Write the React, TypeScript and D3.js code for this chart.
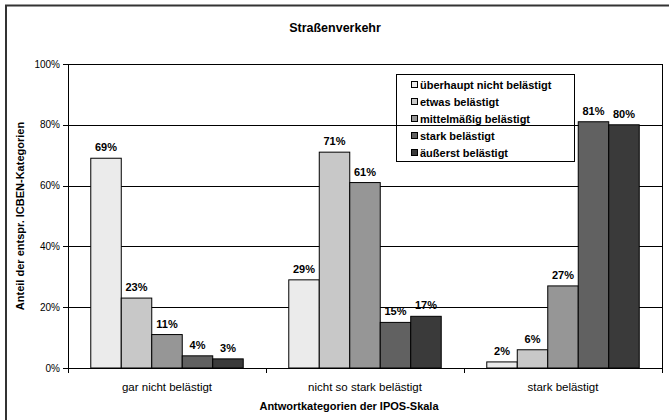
import { scaleBand, scaleLinear } from "d3";
import type { ReactElement } from "react";

const categories = ["gar nicht belästigt", "nicht so stark belästigt", "stark belästigt"];
const seriesNames = [
  "überhaupt nicht belästigt",
  "etwas belästigt",
  "mittelmäßig belästigt",
  "stark belästigt",
  "äußerst belästigt",
];
const seriesValues = [
  [69, 29, 2],
  [23, 71, 6],
  [11, 61, 27],
  [4, 15, 81],
  [3, 17, 80],
];
const yTicks = [0, 20, 40, 60, 80, 100];
const colors = ["#ebebeb", "#c8c8c8", "#969696", "#616161", "#3a3a3a"];

const W = 669;
const H = 420;
const PLOT = { left: 68, right: 662, top: 64, bottom: 368 };
const FONT = "'Liberation Sans', Arial, sans-serif";

export default function App(): ReactElement {
  const x = scaleBand<string>()
    .domain(categories)
    .range([PLOT.left, PLOT.right])
    .paddingInner(0)
    .paddingOuter(0);
  const groupW = x.bandwidth() * 0.77;
  const xs = scaleBand<string>()
    .domain(seriesNames)
    .range([0, groupW]);
  const y = scaleLinear().domain([0, 100]).range([PLOT.bottom, PLOT.top]);

  const legendX = 396;
  const legendY = 74;
  const rowH = 17;

  return (
    <svg
      width={W}
      height={H}
      style={{ position: "absolute", left: 0, top: 0, background: "#fff" }}
      fontFamily={FONT}
    >
      {/* outer chart frame, cropped at right and bottom */}
      <rect x={6} y={5.5} width={W + 10} height={H + 10} fill="none" stroke="#333" strokeWidth={2} />

      <text x={335} y={32} textAnchor="middle" fontSize={12.5} fontWeight="bold">
        Straßenverkehr
      </text>

      {/* gridlines */}
      {yTicks.map((t) => (
        <g key={t}>
          {t > 0 && (
            <line
              x1={PLOT.left}
              x2={PLOT.right}
              y1={Math.round(y(t)) + 0.5}
              y2={Math.round(y(t)) + 0.5}
              stroke="#000"
              strokeWidth={1}
            />
          )}
          <line
            x1={PLOT.left - 5}
            x2={PLOT.left}
            y1={Math.round(y(t)) + 0.5}
            y2={Math.round(y(t)) + 0.5}
            stroke="#000"
          />
          <text
            x={PLOT.left - 8}
            y={y(t) + 3.5}
            textAnchor="end"
            fontSize={10}
            fill="#000"
          >
            {`${t}%`}
          </text>
        </g>
      ))}

      {/* plot right border */}
      <line x1={PLOT.right + 0.5} x2={PLOT.right + 0.5} y1={PLOT.top} y2={PLOT.bottom} stroke="#000" />

      {/* bars */}
      {categories.map((cat, ci) => {
        const gx = (x(cat) ?? 0) + (x.bandwidth() - groupW) / 2;
        return (
          <g key={cat}>
            {seriesNames.map((s, si) => {
              const v = seriesValues[si][ci];
              const bx = gx + (xs(s) ?? 0);
              const by = y(v);
              return (
                <g key={s}>
                  <rect
                    x={bx}
                    y={by}
                    width={xs.bandwidth()}
                    height={y(0) - by}
                    fill={colors[si]}
                    stroke="#000"
                    strokeWidth={1}
                  />
                  <text
                    x={bx + xs.bandwidth() / 2}
                    y={by - 7}
                    textAnchor="middle"
                    fontSize={11}
                    fontWeight="bold"
                  >
                    {`${v}%`}
                  </text>
                </g>
              );
            })}
          </g>
        );
      })}

      {/* axes */}
      <line x1={PLOT.left + 0.5} x2={PLOT.left + 0.5} y1={PLOT.top} y2={PLOT.bottom} stroke="#000" />
      <line x1={PLOT.left} x2={PLOT.right + 1} y1={PLOT.bottom + 0.5} y2={PLOT.bottom + 0.5} stroke="#000" />
      {[...categories.map((c) => x(c) ?? 0), PLOT.right].map((tx, i) => (
        <line
          key={i}
          x1={Math.round(tx) + 0.5}
          x2={Math.round(tx) + 0.5}
          y1={PLOT.bottom}
          y2={PLOT.bottom + 5}
          stroke="#000"
        />
      ))}
      {categories.map((c) => (
        <text
          key={c}
          x={(x(c) ?? 0) + x.bandwidth() / 2}
          y={391}
          textAnchor="middle"
          fontSize={11.5}
        >
          {c}
        </text>
      ))}
      <text x={349} y={410} textAnchor="middle" fontSize={11} fontWeight="bold">
        Antwortkategorien der IPOS-Skala
      </text>
      <text
        transform={`translate(24, ${(PLOT.top + PLOT.bottom) / 2}) rotate(-90)`}
        textAnchor="middle"
        fontSize={11}
        fontWeight="bold"
      >
        Anteil der entspr. ICBEN-Kategorien
      </text>

      {/* legend (transparent, gridlines show through) */}
      <rect
        x={legendX + 0.5}
        y={legendY + 0.5}
        width={178}
        height={87}
        fill="none"
        stroke="#000"
      />
      {seriesNames.map((s, i) => {
        const cy = legendY + 11 + i * rowH;
        return (
          <g key={s}>
            <rect x={411.5} y={cy - 3.5} width={6} height={6} fill={colors[i]} stroke="#000" />
            <text x={420} y={cy + 3.5} fontSize={11} fontWeight="bold">
              {s}
            </text>
          </g>
        );
      })}
    </svg>
  );
}
